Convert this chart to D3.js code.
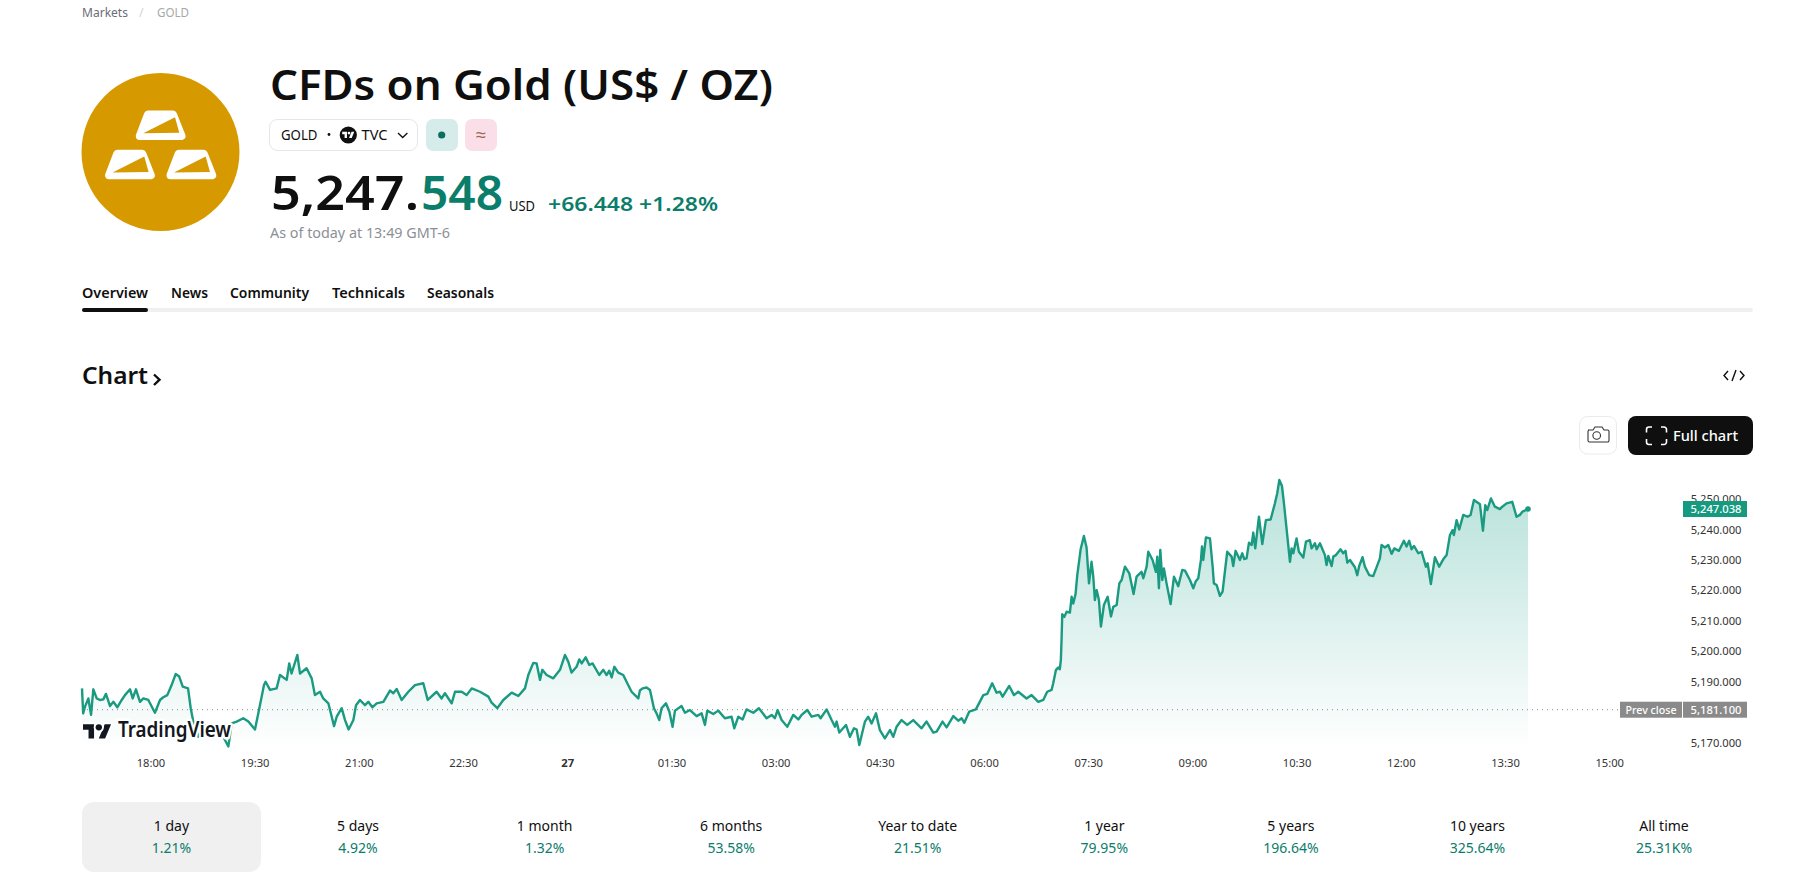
<!DOCTYPE html>
<html><head><meta charset="utf-8">
<script src="https://cdn.jsdelivr.net/npm/d3@7"></script>
<style>html,body{margin:0;padding:0;background:#fff;overflow:hidden}svg{display:block}</style>
</head><body><svg id="c" width="1813" height="877"></svg>
<script>
// minutes since 17:00 on the session start
const minutes=[0,1,2.6,5.5,7.8,9.8,12.7,15.5,18.4,20.7,24.2,27.1,30.5,34.3,37.1,41.5,43.8,46.6,50.1,53,57.3,63,67.4,70.2,73.7,77.4,80.9,84,87,91.6,93.9,96.7,100.5,104.8,109,116,122,126.4,129.3,133.6,139.3,143.7,149.4,152.3,157.2,158.6,162.4,168.1,171,176.8,179,181,186,188.3,194,198.4,201.2,205.6,208.4,212.8,217.7,220,224.3,227.2,230.3,234.4,236.7,240.1,244.4,247.3,250.8,254.5,260.3,266,268.9,271.8,276.1,281.9,287.6,294.8,298.6,306.3,310.6,313.5,319.3,322.2,327.9,332.2,336.6,343.8,351,353.8,358.7,363.9,371.1,376.9,382.6,385.5,389.8,392.7,395.6,397.6,401.3,407.1,412.9,
417.2,420,422.9,427.2,429.5,431.6,435,438.2,441,446.8,450.3,453.1,455.4,457.5,459.8,463.2,467.5,471,474.7,480.5,481.9,484.2,487.7,490.6,494,496.3,498.6,500.6,504.4,507.3,510.1,512.2,517.9,520.8,525.1,530.9,535.2,538.1,540.1,545.3,549.6,555.3,561.1,563.4,566.9,570.6,574,579.8,584.7,591.3,595.7,598.5,600.8,604.3,609.2,614.4,618.7,621.6,626.5,630.2,636,638,643.2,647.5,650.4,651.8,654.1,659.9,663.3,666.8,669.1,671.4,676.3,679.1,682,685.8,689.2,693.5,697.9,700.7,703.6,707.9,712.8,718,725.2,729.5,735.3,738.2,743.3,746.8,752.6,756.9,759.8,762.1,766.4,772.1,778.5,781.9,786.2,790,792.9,795.2,800.9,805,808.7,815.9,820.2,826,830.3,833.7,837.5,838.9,841.2,843.2,844.6,845.5,846.1,
846.7,848.5,850.5,853.3,854.8,856.2,858.2,859.7,862.6,865.4,867.7,869.8,872,873.5,874.9,876.4,878.4,880.1,882.7,885.9,888.8,890.8,893.7,896,898,900.9,904.6,908.3,910.9,915.2,916.7,919.6,921,924.7,927.6,928.8,930.2,931.4,933.1,934.5,936.8,940.3,943.2,946.9,950.4,952.7,957,959.9,961.9,964.2,966.5,967.4,968.5,970.8,974.3,976.6,977.7,980,982.9,985.2,989.2,993,994.4,996.4,1000.2,1002.2,1003.9,1005.9,1008,1010.3,1011.7,1013.4,1016.6,1019.5,1022.6,1026.7,1030.4,1032.4,1034.2,1036.5,1038.2,1043.4,1044.8,1046.3,1049.1,1051.1,1054.9,1057.2,1060.6,1062.1,1065,1066.4,1069.3,1073.6,1075,1076.5,
1079.4,1080.8,1083.1,1087.1,1089.4,1091.4,1092.9,1095.2,1099.5,1101.5,1103.2,1106.1,1108.1,1111.9,1115.3,1121.1,1122.5,1125.4,1128.3,1131.2,1133.5,1137.5,1141.8,1144.1,1146.4,1148.4,1150.5,1154.2,1157.1,1160.8,1162.3,1165.1,1168.6,1172.3,1175.8,1178.7,1181.6,1183.9,1185,1187.3,1189.6,1193.1,1196.8,1199.4,1202.3,1207.5,1210.1,1212.1,1213.8,1217,1220.4,1224.7,1226.8,1230.5,1235.4,1239.1,1242,1244.3,1249];
const prices=[5188.1,5179.9,5182.1,5184.8,5179.4,5187.8,5184.8,5184.3,5184.5,5186.3,5182.3,5183.7,5181.9,5184.3,5185.9,5187.8,5184.8,5187.8,5183.7,5184.8,5184.3,5180.1,5184.3,5185.2,5185.9,5189.2,5192.8,5192,5188.7,5188.1,5181.6,5176.1,5172.2,5176.1,5175.7,5175.5,5172.2,5169,5176.6,5177.2,5178.3,5177.2,5174.6,5179.9,5189.2,5190.3,5187.6,5188.1,5192.5,5190.9,5196.3,5193,5199.1,5193,5194.7,5191.4,5185.9,5187,5184.8,5183.2,5175.7,5178.8,5181.6,5177.7,5174.6,5177.7,5182.6,5184.3,5182.6,5183.7,5181.9,5183.2,5183.7,5187.4,5186.5,5187.9,5184.3,5187,5189.2,5189.8,5184.3,5187,5184.8,5186.5,5183.2,5187,5187,5185.9,5188.1,5187,5185.4,5183.4,5181.6,5184.3,5186.7,5185.6,5188.1,5192.5,5196.5,5196.3,5190.9,5194.2,5192.5,5191.4,5194.2,
5199.1,5196.9,5193.3,5195.2,5197.6,5196.3,5198.3,5195.8,5196.3,5192.5,5194.2,5192.5,5193.9,5191.7,5195.2,5193.3,5192.5,5189.8,5187,5184.8,5187.4,5188.1,5188.4,5187.6,5181.6,5179.9,5177.7,5181.6,5183.2,5180.5,5175.5,5180.8,5182.3,5180.1,5181,5179,5179.9,5176.1,5180.8,5179.7,5180.8,5178.3,5178.8,5175,5178.8,5177.9,5181.2,5180.1,5181.6,5178.3,5179.4,5178.3,5181,5177.7,5175.5,5179.4,5177.9,5179.4,5181,5178.8,5179.4,5178.3,5181.2,5177.7,5175.5,5177.2,5173.6,5176.1,5172.2,5175,5174.6,5169.5,5177.2,5178.8,5176.6,5179.9,5174.4,5171.7,5174.4,5172.2,5175.5,5177.7,5176.1,5177.7,5175,5177.2,5173.6,5173.9,5177.2,5175.3,5179,5177.5,5178.3,5176.8,5180.5,5181.2,5185.9,5186.3,5189.8,5186.7,5187,5185.4,5188.9,5185.9,5187,5184.8,5185.9,5183.7,5184.3,5187,5187.6,5189.8,5194.1,5195,5194.4,5197.4,5204,
5212.5,5211.6,5213.3,5213,5218.2,5216,5219.1,5225.4,5233.8,5238.2,5234.4,5222.6,5229.7,5224.8,5217.1,5220.4,5217.1,5208.4,5215.5,5218.2,5211.7,5214.9,5215.5,5222.6,5223.7,5228.1,5225.9,5219.1,5224.8,5226.4,5224.3,5228.1,5233,5230.3,5226.4,5231.4,5221,5233.6,5223.7,5227.5,5222.6,5215.8,5224.8,5221.7,5227,5226.8,5223.7,5221,5223.2,5224.3,5230.3,5234.7,5230.3,5237.7,5237.4,5228.1,5222.6,5222.1,5218.5,5219.9,5233,5231.4,5228.3,5233.3,5230.3,5232.5,5230.6,5230.8,5236,5235.2,5239.3,5234.1,5244.5,5235.5,5243.4,5243.6,5248.9,5252.2,5256.6,5254.6,5248.9,5229.7,5234.1,5232.5,5237.4,5233,5231.1,5236.3,5236.8,5234.1,5235.8,5233.8,5235.8,5231.9,5228.6,5231.6,
5228.3,5231.4,5231.9,5233.8,5232.5,5233.3,5229.4,5230.3,5227.9,5225.3,5228.3,5231.2,5228.1,5225.3,5225,5230.8,5235.2,5234.4,5235.2,5232.3,5234.1,5233.3,5236.6,5234.7,5236.6,5233.8,5234.9,5232.5,5233,5228.1,5229.2,5222.4,5231.2,5228.1,5230.5,5231.9,5238.5,5240.1,5238.5,5243.4,5240.3,5245.1,5244.5,5245.1,5250,5248.6,5239.9,5248.3,5246.7,5250.5,5247.8,5247,5247.8,5248.9,5249.4,5244.5,5245.1,5246.2,5247.038];
const priceTicks=[5170,5190,5200,5210,5220,5230,5240,5250];
const timeTicks=[60,150,240,330,420,510,600,690,780,870,960,1050,1140,1230,1320];
const timeLabels=["18:00","19:30","21:00","22:30","27","01:30","03:00","04:30","06:00","07:30","09:00","10:30","12:00","13:30","15:00"];
const prevClose=5181.1, lastPrice=5247.038;
const ranges=["1 day","5 days","1 month","6 months","Year to date","1 year","5 years","10 years","All time"];
const rangeChanges=["1.21%","4.92%","1.32%","53.58%","21.51%","79.95%","196.64%","325.64%","25.31K%"];
const tabs=["Overview","News","Community","Technicals","Seasonals"];

const FONT='"Noto Sans",sans-serif', GREEN='#0b7d6b', LINE='#1a9a80';
const svg=d3.select('#c').style('font-family',FONT);
function T(x,y,s,o={}){const t=svg.append('text').attr('x',x).attr('y',y).text(s)
 .attr('font-size',o.size||14).attr('font-weight',o.w||400).attr('fill',o.c||'#0f0f0f').attr('text-anchor',o.a||'start');
 if(o.len)t.attr('textLength',o.len).attr('lengthAdjust','spacingAndGlyphs');return t;}

// breadcrumb
T(82,17,'Markets',{size:12.5,c:'#6a6d78',len:46});
T(139,17,'/',{size:12.5,c:'#d4d4d4'});
T(157,17,'GOLD',{size:12.5,c:'#a8a8a8',len:32});

// logo
svg.append('circle').attr('cx',160.5).attr('cy',152).attr('r',79).attr('fill','#d69a00');
[[0,0],[-30.7,39.3],[30.7,39.3]].forEach(([dx,dy])=>{
 const g=svg.append('g').attr('transform',`translate(${dx},${dy})`);
 g.append('path').attr('d','M148 114.5 L173 114.5 L181.5 136 L139.8 136 Z').attr('fill','#fff').attr('stroke','#fff').attr('stroke-width',8).attr('stroke-linejoin','round');
 g.append('path').attr('d','M143.3 133.3 L175 117.3 L179.3 132.7 Z').attr('fill','#d69a00');
});

// header
T(270,100,'CFDs on Gold (US$ / OZ)',{size:42,w:600,len:503});
svg.append('rect').attr('x',269.5).attr('y',119.5).attr('width',148).attr('height',31).attr('rx',8).attr('fill','#fff').attr('stroke','#e6e6e6');
T(281,140,'GOLD',{size:14.5,len:36.5});
svg.append('circle').attr('cx',329).attr('cy',134.5).attr('r',1.4).attr('fill','#0f0f0f');
svg.append('circle').attr('cx',348.3).attr('cy',135).attr('r',8.6).attr('fill','#0f0f0f');
svg.append('path').attr('transform','translate(342.2,130.4) scale(.34)').attr('fill','#fff').attr('d','M14 22H7V11H0V4h14v18zM28 22h-8l7.5-18h8L28 22z');
svg.append('circle').attr('transform','translate(342.2,130.4) scale(.34)').attr('cx',20).attr('cy',8).attr('r',4).attr('fill','#fff');
T(361.5,140,'TVC',{size:14.5,len:26});
svg.append('path').attr('d','M398 133 L402.7 137.5 L407.4 133').attr('fill','none').attr('stroke','#0f0f0f').attr('stroke-width',1.3);
svg.append('rect').attr('x',426).attr('y',119).attr('width',32).attr('height',32).attr('rx',7).attr('fill','#d6ecea');
svg.append('circle').attr('cx',441.7).attr('cy',135).attr('r',3.6).attr('fill','#0b6e60');
svg.append('rect').attr('x',465).attr('y',119).attr('width',32).attr('height',32).attr('rx',7).attr('fill','#fbdfe8');
T(481,141,'≈',{size:18,c:'#9a6a50',a:'middle'});

T(271,210,'5,247.',{size:46,w:600,len:148});
T(421,210,'548',{size:46,w:600,c:GREEN,len:82});
T(509,211,'USD',{size:13.5,len:26});
T(548,211,'+66.448 +1.28%',{size:20,w:600,c:GREEN,len:170});
T(270,238,'As of today at 13:49 GMT-6',{size:14,c:'#8c8f96',len:180});

// tabs
const tabX=[82,171,230,332,427],tabW=[66,37,79,73,67];
tabs.forEach((t,i)=>T(tabX[i],298,t,{size:14,w:600,len:tabW[i]}));
svg.append('rect').attr('x',82).attr('y',308).attr('width',1671).attr('height',4).attr('rx',2).attr('fill','#f0f0f0');
svg.append('rect').attr('x',82).attr('y',308).attr('width',66).attr('height',4).attr('rx',2).attr('fill','#0f0f0f');

// chart heading
T(82,384,'Chart',{size:24,w:600,len:66});
svg.append('path').attr('d','M154 374.5 L159.5 379.7 L154 385').attr('fill','none').attr('stroke','#0f0f0f').attr('stroke-width',2.4);
svg.append('path').attr('d','M1728 371 L1724 375.5 L1728 380 M1740 371 L1744 375.5 L1740 380 M1736 370 L1732 381').attr('fill','none').attr('stroke','#0f0f0f').attr('stroke-width',1.4);

// buttons
svg.append('rect').attr('x',1579.5).attr('y',416.5).attr('width',37).attr('height',37.5).attr('rx',8).attr('fill','#fff').attr('stroke','#ebebeb');
svg.append('path').attr('d','M1588 430 h5 l2 -3 h7 l2 3 h3.5 a1.5 1.5 0 0 1 1.5 1.5 v9 a1.5 1.5 0 0 1 -1.5 1.5 h-18 a1.5 1.5 0 0 1 -1.5 -1.5 v-9 a1.5 1.5 0 0 1 1.5 -1.5 z').attr('fill','none').attr('stroke','#333').attr('stroke-width',1.1);
svg.append('circle').attr('cx',1596.7).attr('cy',435.5).attr('r',3.8).attr('fill','none').attr('stroke','#333').attr('stroke-width',1.1);
svg.append('rect').attr('x',1628).attr('y',416).attr('width',125).attr('height',39).attr('rx',8).attr('fill','#0f0f0f');
svg.append('path').attr('d','M1652 427 h-3 a2.5 2.5 0 0 0 -2.5 2.5 v3 M1661 427 h3 a2.5 2.5 0 0 1 2.5 2.5 v3 M1646.5 439 v3 a2.5 2.5 0 0 0 2.5 2.5 h3 M1666.5 439 v3 a2.5 2.5 0 0 1 -2.5 2.5 h-3').attr('fill','none').attr('stroke','#fff').attr('stroke-width',1.6);
T(1673,440.5,'Full chart',{size:14,w:500,c:'#fff',len:65});

// scales
const x=d3.scaleLinear().domain([0,1249]).range([82,1528]);
const y=d3.scaleLinear().domain([5170,5250]).range([743.5,500]);
const pts=minutes.map((m,i)=>[m,prices[i]]);

// gradient fill
const grad=svg.append('defs').append('linearGradient').attr('id','fill').attr('gradientUnits','userSpaceOnUse')
 .attr('x1',0).attr('x2',0).attr('y1',y(5256)).attr('y2',y(5168));
grad.append('stop').attr('offset',0).attr('stop-color','#089981').attr('stop-opacity',.29);
grad.append('stop').attr('offset',1).attr('stop-color','#089981').attr('stop-opacity',0);

svg.append('path').datum(pts).attr('fill','url(#fill)')
 .attr('d',d3.area().x(d=>x(d[0])).y1(d=>y(d[1])).y0(y(5167)));
svg.append('line').attr('x1',x(0)).attr('x2',1620).attr('y1',y(prevClose)).attr('y2',y(prevClose))
 .attr('stroke','#8a8a8a').attr('stroke-width',1).attr('stroke-dasharray','1 4');
svg.append('path').datum(pts).attr('fill','none').attr('stroke',LINE).attr('stroke-width',2.4).attr('stroke-linejoin','round')
 .attr('d',d3.line().x(d=>x(d[0])).y(d=>y(d[1])));
svg.append('circle').attr('cx',x(1249)).attr('cy',y(lastPrice)).attr('r',2.8).attr('fill',LINE);

// axes
const axisFont=s=>s.attr('font-family',FONT).attr('font-size',11.2).attr('fill','#333');
const gx=svg.append('g').attr('transform','translate(-1,763)').call(d3.axisBottom(x).tickValues(timeTicks).tickSize(0).tickFormat((d,i)=>timeLabels[i]));
gx.select('.domain').remove();
gx.selectAll('text').call(axisFont).attr('y',0).attr('dy','.35em').attr('font-weight',(d,i)=>timeLabels[i]==='27'?700:400);
const gy=svg.append('g').attr('transform','translate(1741.5,-1)').call(d3.axisLeft(y).tickValues(priceTicks).tickSize(0).tickPadding(0).tickFormat(d3.format(',.3f')));
gy.select('.domain').remove();
gy.selectAll('text').call(axisFont);

// price labels
svg.append('rect').attr('x',1683).attr('y',y(lastPrice)-8).attr('width',64).attr('height',16).attr('fill','#159a80');
T(1741.5,y(lastPrice)+4,d3.format(',.3f')(lastPrice),{size:11.2,w:500,c:'#fff',a:'end'});
svg.append('rect').attr('x',1620).attr('y',y(prevClose)-8).attr('width',62).attr('height',16).attr('fill','#8a8a8a');
T(1625.5,y(prevClose)+4,'Prev close',{size:11.2,w:500,c:'#fff',len:51});
svg.append('rect').attr('x',1683).attr('y',y(prevClose)-8).attr('width',64).attr('height',16).attr('fill','#8a8a8a');
T(1741.5,y(prevClose)+4,d3.format(',.3f')(prevClose),{size:11.2,w:500,c:'#fff',a:'end'});

// TradingView watermark
const halo=s=>s.attr('stroke','#fff').attr('stroke-width',5).attr('paint-order','stroke').attr('stroke-linejoin','round');
const wm=svg.append('g').attr('transform','translate(83,721)').attr('fill','#131722');
wm.append('path').attr('transform','scale(.79)').attr('d','M14 22H7V11H0V4h14v18zM28 22h-8l7.5-18h8L28 22z').call(halo);
wm.append('circle').attr('transform','scale(.79)').attr('cx',20).attr('cy',8).attr('r',4).call(halo);
T(118,737,'TradingView',{size:22,w:600,c:'#131722',len:113}).call(halo);

// range strip
svg.append('rect').attr('x',82).attr('y',802).attr('width',179).attr('height',70).attr('rx',12).attr('fill','#f0f0f0');
const rx=d3.scalePoint().domain(ranges).range([171.5,1664]);
ranges.forEach((r,i)=>{
 T(rx(r),831,r,{size:14,a:'middle'});
 T(rx(r),853,rangeChanges[i],{size:14,c:GREEN,a:'middle'});
});
</script></body></html>
